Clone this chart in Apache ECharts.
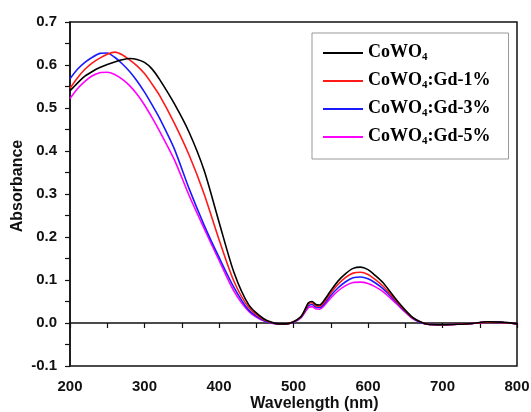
<!DOCTYPE html>
<html>
<head>
<meta charset="utf-8">
<script src="https://cdn.jsdelivr.net/npm/echarts@6/dist/echarts.min.js"></script>
<style>
  html, body { margin: 0; padding: 0; background: #fff; }
  #chart { width: 531px; height: 412px; }
</style>
</head>
<body>
<div id="chart"></div>
<script>
// wavelength (nm)
const wavelength = [200, 210, 220, 230, 240, 250, 260, 270, 280, 290, 300, 310, 320, 340, 360, 380, 400, 420, 440, 460, 480, 490, 500, 510, 515, 520, 525, 530, 535, 540, 550, 560, 570, 580, 590, 600, 610, 620, 630, 640, 650, 660, 670, 680, 700, 720, 740, 760, 780, 800];

const coWO4 = [0.540, 0.558, 0.574, 0.585, 0.594, 0.601, 0.607, 0.612, 0.615, 0.613, 0.606, 0.591, 0.567, 0.510, 0.443, 0.355, 0.235, 0.118, 0.042, 0.010, -0.002, -0.002, 0.003, 0.015, 0.030, 0.047, 0.050, 0.043, 0.042, 0.050, 0.075, 0.098, 0.115, 0.127, 0.130, 0.124, 0.110, 0.094, 0.072, 0.050, 0.030, 0.013, 0.003, -0.003, -0.004, -0.003, -0.001, 0.003, 0.002, -0.002];

const gd1 = [0.546, 0.570, 0.590, 0.605, 0.616, 0.625, 0.630, 0.624, 0.612, 0.598, 0.580, 0.556, 0.530, 0.465, 0.390, 0.300, 0.194, 0.097, 0.036, 0.008, -0.002, -0.002, 0.003, 0.014, 0.028, 0.044, 0.047, 0.040, 0.039, 0.046, 0.070, 0.090, 0.106, 0.116, 0.118, 0.113, 0.101, 0.086, 0.067, 0.047, 0.028, 0.012, 0.003, -0.003, -0.004, -0.003, -0.001, 0.002, 0.001, -0.002];

const gd3 = [0.568, 0.590, 0.606, 0.618, 0.627, 0.628, 0.618, 0.603, 0.585, 0.563, 0.537, 0.508, 0.477, 0.405, 0.312, 0.228, 0.153, 0.083, 0.030, 0.006, -0.002, -0.002, 0.002, 0.013, 0.026, 0.040, 0.043, 0.037, 0.036, 0.042, 0.064, 0.082, 0.096, 0.105, 0.107, 0.103, 0.093, 0.080, 0.063, 0.045, 0.027, 0.011, 0.002, -0.003, -0.004, -0.003, -0.001, 0.002, 0.001, -0.002];

const gd5 = [0.522, 0.545, 0.562, 0.575, 0.582, 0.583, 0.578, 0.567, 0.552, 0.532, 0.507, 0.478, 0.447, 0.380, 0.296, 0.220, 0.146, 0.074, 0.027, 0.005, -0.002, -0.002, 0.002, 0.012, 0.024, 0.036, 0.038, 0.033, 0.032, 0.038, 0.058, 0.075, 0.087, 0.094, 0.095, 0.092, 0.084, 0.073, 0.058, 0.042, 0.025, 0.010, 0.002, -0.003, -0.004, -0.003, -0.001, 0.002, 0.001, -0.002];

const seriesNames = ['CoWO4', 'CoWO4:Gd-1%', 'CoWO4:Gd-3%', 'CoWO4:Gd-5%'];
const seriesColors = ['#000000', '#ff1a1a', '#1a1aff', '#ff00ff'];
const seriesData = [coWO4, gd1, gd3, gd5];

const pair = (ys) => wavelength.map((x, i) => [x, ys[i]]);

const chart = echarts.init(document.getElementById('chart'));

const tickFont = { fontFamily: 'Liberation Sans', fontWeight: 'bold', fontSize: 15, color: '#111' };
const titleFont = { fontFamily: 'Liberation Sans', fontWeight: 'bold', fontSize: 16, color: '#111' };
const serif = 'Liberation Serif';

let option = {
  animation: false,
  grid: {
    left: 70, right: 14, top: 22, bottom: 46,
    outerBoundsMode: 'none',
    show: true, borderColor: '#111', borderWidth: 1.5
  },
  legend: {
    left: 312, top: 33,
    orient: 'vertical',
    icon: 'rect',
    itemWidth: 40, itemHeight: 2, itemGap: 5,
    padding: [7, 18, 12, 11],
    borderColor: '#999', borderWidth: 1,
    data: seriesNames,
    formatter: function (name) {
      const rest = name.slice(5);
      return '{a|CoWO}{s|4}' + (rest ? '{a|' + rest + '}' : '');
    },
    textStyle: {
      color: '#000',
      rich: {
        a: { fontFamily: serif, fontWeight: 'bold', fontSize: 18, lineHeight: 20, verticalAlign: 'top', color: '#000' },
        s: { fontFamily: serif, fontWeight: 'bold', fontSize: 11, lineHeight: 11, padding: [12, 0, 0, 0], verticalAlign: 'bottom', color: '#000' }
      }
    }
  },
  xAxis: {
    type: 'value',
    min: 200, max: 800, interval: 100,
    name: 'Wavelength (nm)',
    nameLocation: 'middle',
    nameGap: 30,
    nameMoveOverlap: false,
    nameTextStyle: Object.assign({ padding: [0, 0, 0, 42] }, titleFont),
    axisLine: { lineStyle: { color: '#111', width: 1.5 } },
    axisTick: { show: true, length: 5, lineStyle: { color: '#111', width: 1.2 } },
    minorTick: { show: true, splitNumber: 2, length: 5, lineStyle: { color: '#111', width: 1.2 } },
    axisLabel: Object.assign({ margin: 13 }, tickFont),
    splitLine: { show: false }
  },
  yAxis: {
    type: 'value',
    min: -0.1, max: 0.7, interval: 0.1,
    name: 'Absorbance',
    nameLocation: 'middle',
    nameGap: 44,
    nameMoveOverlap: false,
    nameTextStyle: Object.assign({ padding: [0, 0, 0, 16] }, titleFont),
    axisLine: { show: true, lineStyle: { color: '#111', width: 1.5 } },
    axisTick: { show: true, length: 5, lineStyle: { color: '#111', width: 1.2 } },
    minorTick: { show: true, splitNumber: 2, length: 5, lineStyle: { color: '#111', width: 1.2 } },
    axisLabel: Object.assign({
      margin: 13,
      formatter: function (v) { return v.toFixed(1); }
    }, tickFont),
    splitLine: { show: false }
  },
  series: seriesNames.map(function (name, i) {
    return {
      name: name,
      type: 'line',
      data: pair(seriesData[i]),
      showSymbol: false,
      symbol: 'none',
      smooth: 0.25,
      color: seriesColors[i],
      lineStyle: { width: 1.6, color: seriesColors[i] },
      z: 10 - i
    };
  })
};

chart.setOption(option);
</script>
</body>
</html>
